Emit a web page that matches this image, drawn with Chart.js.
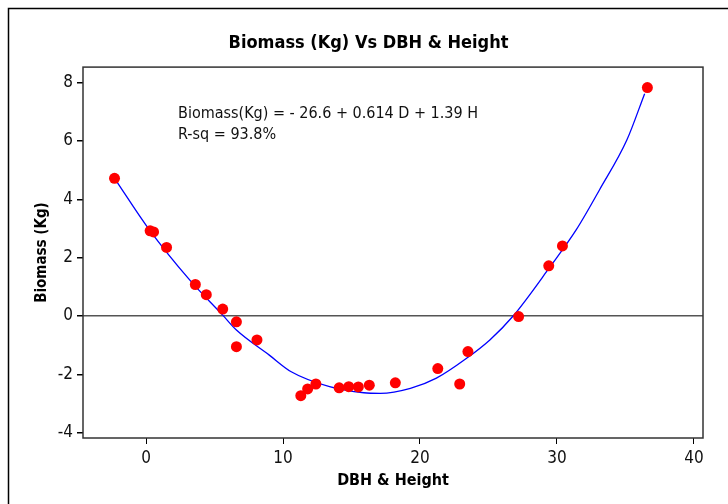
<!DOCTYPE html>
<html>
<head>
<meta charset="utf-8">
<script src="https://cdn.jsdelivr.net/npm/chart.js@4"></script>
<style>
  body { margin: 0; background: #fff; }
  #wrap { width: 728px; height: 504px; }
</style>
</head>
<body>
<div id="wrap"><canvas id="fitChart" width="728" height="504"></canvas></div>
<script>
// observed points (DBH & Height, Biomass)
const obsX = [-2.3, 0.3, 0.55, 1.5, 3.6, 4.4, 5.6, 6.6, 6.6, 8.1, 11.3, 11.8, 12.4, 14.1, 14.8, 15.5, 16.3, 18.2, 21.3, 22.9, 23.5, 27.2, 29.4, 30.4, 36.6];
const obsY = [4.72, 2.92, 2.88, 2.35, 1.08, 0.73, 0.24, -0.2, -1.05, -0.82, -2.73, -2.5, -2.33, -2.46, -2.42, -2.43, -2.37, -2.29, -1.8, -2.33, -1.22, -0.02, 1.72, 2.4, 7.83];

// fitted curve
const fitX = [-2.2, 0.1, 3.2, 5.6, 6.6, 9.0, 10.6, 13.4, 15.9, 17.1, 19.3, 21.2, 23.4, 25.1, 26.8, 29.5, 31.4, 33.1, 35.1, 36.4];
const fitY = [4.65, 3.05, 1.23, 0.03, -0.48, -1.34, -1.91, -2.42, -2.63, -2.65, -2.48, -2.13, -1.45, -0.82, 0.0, 1.69, 2.95, 4.32, 6.03, 7.62];

const xTicks = [0, 10, 20, 30, 40];
const yTicks = [-4, -2, 0, 2, 4, 6, 8];
const eqLines = ['Biomass(Kg) = - 26.6 + 0.614 D + 1.39 H', 'R-sq = 93.8%'];

const narrow = '"Liberation Sans Narrow", "DejaVu Sans Condensed", "Roboto Condensed", sans-serif';

const pts = obsX.map((x, i) => ({ x: x, y: obsY[i] }));
const fit = fitX.map((x, i) => ({ x: x, y: fitY[i] }));

// frame around the whole figure + box round the plot + equation text
const framePlugin = {
  id: 'framePlugin',
  beforeDraw(chart) {
    const ctx = chart.ctx;
    ctx.save();
    ctx.strokeStyle = '#000';
    ctx.lineWidth = 1.5;
    ctx.beginPath();
    ctx.moveTo(8.5, 504);
    ctx.lineTo(8.5, 8.5);
    ctx.lineTo(728, 8.5);
    ctx.stroke();
    ctx.restore();
  },
  afterDatasetsDraw(chart) {
    const { ctx, chartArea: a } = chart;
    ctx.save();
    ctx.strokeStyle = '#333';
    ctx.lineWidth = 1.5;
    ctx.strokeRect(a.left, a.top, a.right - a.left, a.bottom - a.top);
    ctx.fillStyle = '#111';
    ctx.font = '16px ' + narrow;
    ctx.textBaseline = 'middle';
    ctx.textAlign = 'left';
    eqLines.forEach((t, i) => ctx.fillText(t, 178, 114 + i * 21));
    ctx.restore();
  }
};

new Chart(document.getElementById('fitChart'), {
  type: 'scatter',
  data: {
    datasets: [
      {
        data: pts,
        backgroundColor: '#ff0000',
        borderWidth: 0,
        pointRadius: 5.5,
        pointHoverRadius: 5.5
      },
      {
        data: fit,
        showLine: true,
        borderColor: '#0000ff',
        borderWidth: 1.3,
        pointRadius: 0,
        cubicInterpolationMode: 'monotone'
      }
    ]
  },
  plugins: [framePlugin],
  options: {
    responsive: false,
    animation: false,
    layout: { padding: { left: 34, right: 25, top: 0, bottom: 0 } },
    plugins: {
      legend: { display: false },
      tooltip: { enabled: false },
      title: {
        display: true,
        text: 'Biomass (Kg) Vs DBH & Height',
        color: '#000',
        font: { family: narrow, size: 18, weight: 'bold' },
        padding: { top: 33, bottom: 12.5 }
      }
    },
    scales: {
      x: {
        type: 'linear',
        min: -4.6,
        max: 40.66,
        afterBuildTicks: (s) => { s.ticks = xTicks.map(v => ({ value: v })); },
        afterFit: (s) => { s.height = 66; },
        border: { display: false },
        grid: { drawOnChartArea: false, drawTicks: true, tickLength: 6, tickColor: '#000', tickWidth: 1 },
        ticks: { color: '#111', padding: 4, font: { family: narrow, size: 17 } },
        title: {
          display: true,
          text: 'DBH & Height',
          color: '#000',
          font: { family: narrow, size: 16, weight: 'bold' },
          padding: { top: 0, bottom: 14 }
        }
      },
      y: {
        type: 'linear',
        min: -4.18,
        max: 8.53,
        afterBuildTicks: (s) => { s.ticks = yTicks.map(v => ({ value: v })); },
        afterFit: (s) => { s.width = 49; },
        border: { display: false },
        grid: {
          drawOnChartArea: true,
          drawTicks: true,
          tickLength: 6,
          tickColor: '#000',
          lineWidth: 1.5,
          color: (c) => (c.tick && c.tick.value === 0 ? '#555' : 'rgba(0,0,0,0)')
        },
        ticks: { color: '#111', padding: 4, font: { family: narrow, size: 17 } },
        title: {
          display: true,
          text: 'Biomass (Kg)',
          color: '#000',
          font: { family: narrow, size: 15, weight: 'bold' },
          padding: { top: -1, bottom: 0 }
        }
      }
    }
  }
});
</script>
</body>
</html>
